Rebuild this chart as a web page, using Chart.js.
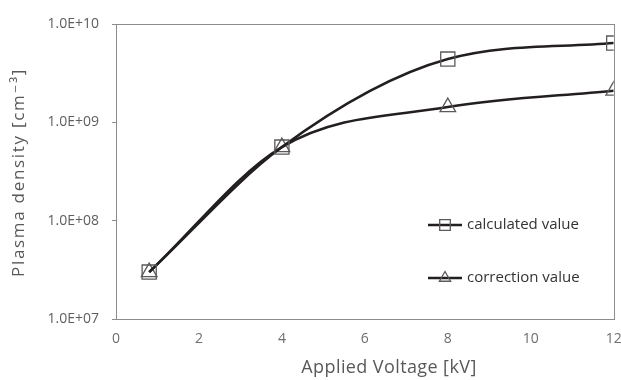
<!DOCTYPE html>
<html>
<head>
<meta charset="utf-8">
<script src="https://cdn.jsdelivr.net/npm/chart.js@4.4.0/dist/chart.umd.min.js"></script>
<style>
  html, body { margin: 0; padding: 0; background: #fff; overflow: hidden; }
  canvas { display: block; }
</style>
</head>
<body>
<!-- canvas is a few px wider than the window so the "12" label gets cut like in the original -->
<canvas id="plasmaChart" width="625" height="380"></canvas>
<script>
// values
var voltages = [0.8, 4, 8, 12];
var calculatedDensity = [3.0e7, 5.6e8, 4.4e9, 6.4e9];
var correctionDensity = [3.0e7, 5.6e8, 1.43e9, 2.1e9];
var seriesLabels = ['calculated value', 'correction value'];
var yTickValues = [1e7, 1e8, 1e9, 1e10];
var xTitle = 'Applied Voltage [kV]';
var yTitle = 'Plasma density [cm\u207B\u00B3]';

var fontFam = '"Open Sans", "DejaVu Sans", sans-serif';
var lineCol = '#231f20';
var markCol = '#5a5a5a';
var axisCol = '#8c8c8c';

function toPoints(xs, ys){
  var out = [];
  for(var i = 0; i < xs.length; i++) out.push({ x: xs[i], y: ys[i] });
  return out;
}

function sciLabel(v){
  var exp = Math.round(Math.log10(v));
  var mant = v / Math.pow(10, exp);
  return mant.toFixed(1) + 'E+' + (exp < 10 ? '0' + exp : exp);
}

// box round the plot area (top and right sides are not drawn by the axes)
var frameBox = {
  id: 'frameBox',
  beforeDatasetsDraw: function(chart){
    var a = chart.chartArea, ctx = chart.ctx;
    ctx.save();
    ctx.strokeStyle = axisCol;
    ctx.lineWidth = 1;
    ctx.strokeRect(Math.round(a.left) + 0.5, Math.round(a.top) + 0.5, Math.round(a.right - a.left), Math.round(a.bottom - a.top));
    ctx.restore();
  }
};

// legend inside the plot (lower right) and the two axis titles
var innerLegend = {
  id: 'innerLegend',
  afterDraw: function(chart){
    var ctx = chart.ctx;
    var a = chart.chartArea;
    var rows = [225, 278];
    var radii = [7.5, 6.5];
    ctx.save();
    for(var i = 0; i < chart.data.datasets.length; i++){
      var ds = chart.data.datasets[i];
      var y = rows[i];
      var x0 = 428, x1 = 462;
      ctx.strokeStyle = lineCol;
      ctx.lineWidth = 2.5;
      ctx.beginPath();
      ctx.moveTo(x0, y);
      ctx.lineTo(x1, y);
      ctx.stroke();
      ctx.strokeStyle = markCol;
      ctx.lineWidth = 1.3;
      ctx.fillStyle = 'rgba(0,0,0,0)';
      Chart.helpers.drawPoint(ctx, { pointStyle: ds.pointStyle, rotation: 0, radius: radii[i], borderWidth: 1.3 }, (x0 + x1) / 2, y);
      ctx.fillStyle = '#333';
      ctx.font = '15px ' + fontFam;
      ctx.textBaseline = 'middle';
      ctx.textAlign = 'left';
      ctx.fillText(ds.label, x1 + 5, y);
    }

    ctx.fillStyle = '#595959';
    ctx.textAlign = 'center';
    ctx.textBaseline = 'middle';
    ctx.font = '18px ' + fontFam;
    ctx.letterSpacing = '0.4px';
    ctx.fillText(xTitle, 389, 368);

    ctx.font = '17px ' + fontFam;
    ctx.letterSpacing = '1.7px';
    ctx.translate(19, (a.top + a.bottom) / 2 + 1);
    ctx.rotate(-Math.PI / 2);
    ctx.fillText(yTitle, 0, 0);
    ctx.restore();
  }
};

var ctx = document.getElementById('plasmaChart').getContext('2d');
new Chart(ctx, {
  type: 'line',
  data: {
    datasets: [
      {
        label: seriesLabels[0],
        data: toPoints(voltages, calculatedDensity),
        borderColor: lineCol, borderWidth: 2.5,
        pointStyle: 'rect', pointRadius: 10,
        pointBorderColor: markCol, pointBackgroundColor: 'rgba(0,0,0,0)', pointBorderWidth: 1.3,
        cubicInterpolationMode: 'monotone', fill: false
      },
      {
        label: seriesLabels[1],
        data: toPoints(voltages, correctionDensity),
        borderColor: lineCol, borderWidth: 2.5,
        pointStyle: 'triangle', pointRadius: 9,
        pointBorderColor: markCol, pointBackgroundColor: 'rgba(0,0,0,0)', pointBorderWidth: 1.3,
        cubicInterpolationMode: 'monotone', fill: false
      }
    ]
  },
  options: {
    responsive: false,
    animation: false,
    layout: { padding: { top: 24, right: 0, bottom: 0, left: 0 } },
    plugins: {
      legend: { display: false },
      tooltip: { enabled: false }
    },
    scales: {
      x: {
        type: 'linear', min: 0, max: 12,
        ticks: { stepSize: 2, color: '#6e6e6e', padding: 12, font: { family: fontFam, size: 14 } },
        grid: { display: true, drawOnChartArea: false, drawTicks: false },
        border: { display: true, color: axisCol, width: 1 },
        afterFit: function(s){ s.height = 61; s.paddingRight = 0; s.paddingLeft = 0; }
      },
      y: {
        type: 'logarithmic', min: 1e7, max: 1e10,
        afterBuildTicks: function(s){
          s.ticks = yTickValues.map(function(v){ return { value: v }; });
        },
        ticks: {
          color: '#5e5e5e', padding: 13,
          font: { family: fontFam, size: 14 },
          callback: function(v){ return sciLabel(v); }
        },
        grid: { display: true, drawOnChartArea: false, drawTicks: true, tickLength: 4, color: axisCol },
        border: { display: true, color: axisCol, width: 1 },
        afterFit: function(s){ s.width = 116; s.paddingTop = 0; s.paddingBottom = 0; }
      }
    }
  },
  plugins: [frameBox, innerLegend]
});
</script>
</body>
</html>
